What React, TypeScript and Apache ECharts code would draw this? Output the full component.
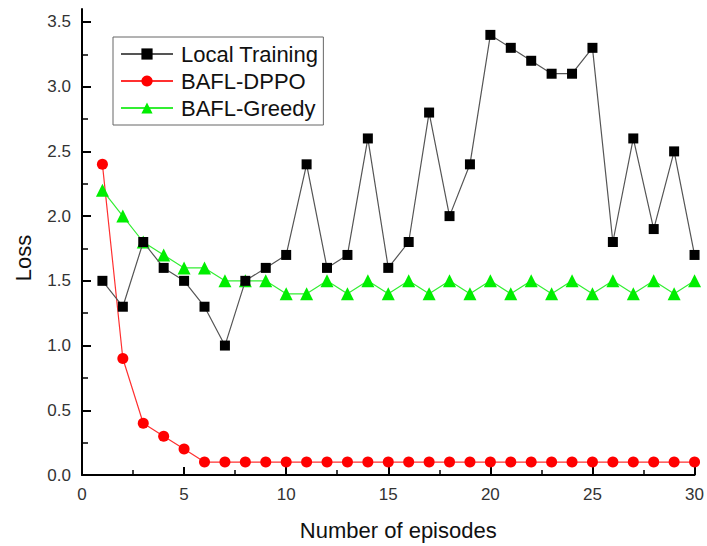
import React, { useEffect, useRef } from "react";
import * as echarts from "echarts";

const episodes = Array.from({ length: 30 }, (_, i) => i + 1);
const localTraining = [1.5, 1.3, 1.8, 1.6, 1.5, 1.3, 1.0, 1.5, 1.6, 1.7, 2.4, 1.6, 1.7, 2.6, 1.6, 1.8, 2.8, 2.0, 2.4, 3.4, 3.3, 3.2, 3.1, 3.1, 3.3, 1.8, 2.6, 1.9, 2.5, 1.7];
const baflDppo = [2.4, 0.9, 0.4, 0.3, 0.2, 0.1, 0.1, 0.1, 0.1, 0.1, 0.1, 0.1, 0.1, 0.1, 0.1, 0.1, 0.1, 0.1, 0.1, 0.1, 0.1, 0.1, 0.1, 0.1, 0.1, 0.1, 0.1, 0.1, 0.1, 0.1];
const baflGreedy = [2.2, 2.0, 1.8, 1.7, 1.6, 1.6, 1.5, 1.5, 1.5, 1.4, 1.4, 1.5, 1.4, 1.5, 1.4, 1.5, 1.4, 1.5, 1.4, 1.5, 1.4, 1.5, 1.4, 1.5, 1.4, 1.5, 1.4, 1.5, 1.4, 1.5];
const yTicks = [0, 0.5, 1.0, 1.5, 2.0, 2.5, 3.0, 3.5];
const xTicks = [0, 5, 10, 15, 20, 25, 30];

const FONT = "'Liberation Sans', Arial, sans-serif";

export default function App() {
  const ref = useRef<HTMLDivElement>(null);
  useEffect(() => {
    if (!ref.current) return;
    const chart = echarts.init(ref.current, null, { renderer: "svg" });
    const pair = (arr: number[]) => arr.map((v, i) => [episodes[i], v]);
    chart.setOption({
      animation: false,
      backgroundColor: "#fff",
      grid: { left: 82, right: 8, top: 9, bottom: 71, containLabel: false },
      legend: {
        orient: "vertical",
        left: 113,
        top: 37,
        borderColor: "#666",
        borderWidth: 1,
        padding: [6, 5, 6, 7],
        itemGap: 5,
        itemWidth: 52,
        itemHeight: 14,
        textStyle: { fontSize: 22, fontFamily: FONT, color: "#111", padding: [0, 0, 0, 3] },
        data: ["Local Training", "BAFL-DPPO", "BAFL-Greedy"],
      },
      xAxis: {
        type: "value",
        min: 0,
        max: 30,
        interval: 5,
        name: "Number of episodes",
        nameLocation: "middle",
        nameGap: 44,
        nameTextStyle: { fontSize: 22, fontFamily: FONT, color: "#111", padding: [0, 0, 0, 20] },
        axisLine: { show: true, lineStyle: { color: "#000", width: 2 } },
        axisTick: { show: true, inside: true, length: 8, lineStyle: { color: "#000", width: 2 }, customValues: xTicks },
        minorTick: { show: true, splitNumber: 2, length: 5, lineStyle: { color: "#000", width: 1.5 } },
        axisLabel: { fontSize: 17, fontFamily: FONT, color: "#333", margin: 11, customValues: xTicks },
        splitLine: { show: false },
      },
      yAxis: {
        type: "value",
        min: 0,
        max: 3.6,
        interval: 0.5,
        name: "Loss",
        nameLocation: "middle",
        nameGap: 48,
        nameTextStyle: { fontSize: 22, fontFamily: FONT, color: "#111", padding: [0, 32, 0, 0] },
        axisLine: { show: true, lineStyle: { color: "#000", width: 2 } },
        axisTick: { show: true, inside: true, length: 9, lineStyle: { color: "#000", width: 2 }, customValues: yTicks },
        minorTick: { show: true, splitNumber: 2, length: 6, lineStyle: { color: "#000", width: 1.5 } },
        axisLabel: {
          fontSize: 17,
          fontFamily: FONT,
          color: "#333",
          margin: 11,
          customValues: yTicks,
          formatter: (v: number) => v.toFixed(1),
        },
        splitLine: { show: false },
      },
      series: [
        {
          name: "Local Training",
          type: "line",
          data: pair(localTraining),
          symbol: "rect",
          symbolSize: 10,
          itemStyle: { color: "#000" },
          lineStyle: { color: "#555", width: 1.2 },
          z: 3,
        },
        {
          name: "BAFL-DPPO",
          type: "line",
          data: pair(baflDppo),
          symbol: "circle",
          symbolSize: 11,
          itemStyle: { color: "#ff0000" },
          lineStyle: { color: "#ff3030", width: 1.2 },
          z: 2,
        },
        {
          name: "BAFL-Greedy",
          type: "line",
          data: pair(baflGreedy),
          symbol: "triangle",
          symbolSize: 13,
          itemStyle: { color: "#00ee00" },
          lineStyle: { color: "#33ee33", width: 1.2 },
          z: 2,
        },
      ],
    });
    return () => chart.dispose();
  }, []);
  return <div ref={ref} style={{ width: 707, height: 546, position: "absolute", left: 0, top: 0 }} />;
}
